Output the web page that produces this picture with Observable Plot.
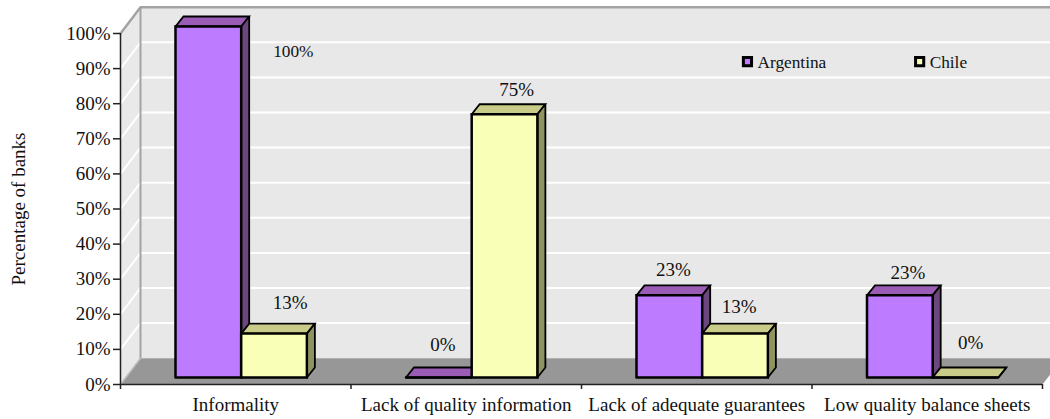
<!DOCTYPE html>
<html>
<head>
<meta charset="utf-8">
<script src="https://cdn.jsdelivr.net/npm/d3@7"></script>
<script src="https://cdn.jsdelivr.net/npm/@observablehq/plot@0.6"></script>
<style>
  html, body { margin: 0; padding: 0; background: #fff; overflow: hidden; }
  svg { display: block; }
</style>
</head>
<body>
<div id="chart"></div>
<script>
const categories = ["Informality", "Lack of quality information", "Lack of adequate guarantees", "Low quality balance sheets"];
const argentina = [100, 0, 23.4, 23.4];
const chile = [12.5, 75, 12.5, 0];
const percentTicks = [0, 10, 20, 30, 40, 50, 60, 70, 80, 90, 100];
const seriesNames = ["Argentina", "Chile"];

// label nudges (px) for each value label: [dx, dy]
const argentinaNudges = [[85, 25], [4, -33], [4, -25], [8, -22]];
const chileNudges = [[16, -31], [12, -24], [4, -27], [5, -35]];

// 3D geometry, in scale units
const wallDx = 20 / 230.5, wallDy = 7.5;
const barDx = 8 / 230.5, barDy = 2.85;
const barWidth = 0.285, groupStart = 0.2386, floorLift = 2;

const colors = {
  argentina: {front: "#BD7BFF", top: "#9A5CB4", side: "#6C477E"},
  chile: {front: "#F9FFB6", top: "#C8CC88", side: "#8F9360"}
};

const poly = (pts, fill, stroke = "none", strokeWidth = 0) =>
  Plot.line([...pts, pts[0]], {
    x: d => d[0], y: d => d[1], fill, stroke, strokeWidth,
    strokeLinejoin: "miter", strokeMiterlimit: 3
  });

function bar(i, slot, v, c) {
  const x0 = i + groupStart + slot * barWidth, x1 = x0 + barWidth;
  const y0 = floorLift, y1 = floorLift + v;
  return [
    poly([[x0, y1], [x0 + barDx, y1 + barDy], [x1 + barDx, y1 + barDy], [x1, y1]], c.top, "#000", 1.8),
    poly([[x1, y0], [x1 + barDx, y0 + barDy], [x1 + barDx, y1 + barDy], [x1, y1]], c.side, "#000", 1.8),
    poly([[x0, y0], [x1, y0], [x1, y1], [x0, y1]], c.front, "#000", 2.5)
  ];
}

const barMarks = categories.flatMap((_, i) => [
  ...bar(i, 0, argentina[i], colors.argentina),
  ...bar(i, 1, chile[i], colors.chile)
]);

const valueLabels = (values, slot, nudges) => values.map((v, i) =>
  Plot.text([v], {
    x: () => i + groupStart + (slot + 0.5) * barWidth,
    y: () => v + floorLift,
    text: d => Math.round(d) + "%",
    dx: nudges[i][0], dy: nudges[i][1],
    fontSize: v === 100 ? 17.3 : 19, fill: "#111"
  }));

const gridBack = percentTicks.slice(1, -1);

const plot = Plot.plot({
  width: 1050,
  height: 419,
  marginLeft: 120,
  marginRight: 8,
  marginTop: 33,
  marginBottom: 35,
  style: {fontFamily: "'Liberation Serif', serif", background: "#fff", color: "#111"},
  x: {domain: [0, 4], axis: null},
  y: {domain: [0, 100], axis: null},
  marks: [
    // walls and floor
    poly([[wallDx, wallDy], [4.2, wallDy], [4.2, 100 + wallDy], [wallDx, 100 + wallDy]], "#E8E8E8"),
    poly([[0, 0], [wallDx, wallDy], [wallDx, 100 + wallDy], [0, 100]], "#E9E9E9"),
    poly([[0, 0], [wallDx, wallDy], [4 + wallDx, wallDy], [4, 0]], "#979797"),
    // grid
    Plot.link(gridBack, {x1: wallDx, x2: 4.2, y1: d => d + wallDy, y2: d => d + wallDy, stroke: "#fff", strokeWidth: 2}),
    Plot.link(gridBack, {x1: 0, x2: wallDx, y1: d => d, y2: d => d + wallDy, stroke: "#fff", strokeWidth: 2}),
    // wall edges
    Plot.line([[0, 100], [wallDx, 100 + wallDy], [4.2, 100 + wallDy]], {x: d => d[0], y: d => d[1], stroke: "#A3A3A3", strokeWidth: 2.5}),
    Plot.link([0], {x1: wallDx, x2: wallDx, y1: wallDy, y2: 100 + wallDy, stroke: "#A3A3A3", strokeWidth: 2}),
    Plot.link([0], {x1: 0, x2: wallDx, y1: 0, y2: wallDy, stroke: "#BDBDBD", strokeWidth: 1.5}),
    // bars
    ...barMarks,
    // value labels
    ...valueLabels(argentina, 0, argentinaNudges),
    ...valueLabels(chile, 1, chileNudges),
    // axes
    Plot.ruleX([0], {y1: 0, y2: 100, stroke: "#222", strokeWidth: 1.5}),
    Plot.ruleY([0], {x1: 0, x2: 4, stroke: "#222", strokeWidth: 1.5}),
    Plot.axisY({
      ticks: percentTicks, tickFormat: d => d + "%", tickSize: 7, tickPadding: 3,
      fontSize: 19, stroke: "#222", strokeWidth: 1.5,
      label: null
    }),
    Plot.axisX({
      ticks: [0, 1, 2, 3, 4], tickFormat: () => "", tickSize: 5, stroke: "#222", strokeWidth: 1.5, label: null
    }),
    Plot.axisX({
      ticks: categories.map((_, i) => i + 0.5), tickFormat: d => categories[Math.floor(d)],
      tickSize: 0, tickPadding: 13, fontSize: 19, label: null
    }),
    Plot.text(["Percentage of banks"], {
      frameAnchor: "left", textAnchor: "middle", dx: -102, rotate: -90, fontSize: 19, fill: "#111"
    }),
    // legend
    Plot.dot(seriesNames, {
      x: (_, i) => [2.72, 3.467][i], y: 92, symbol: "square", r: 4.6,
      fill: (_, i) => [colors.argentina.front, colors.chile.front][i], stroke: "#000", strokeWidth: 3
    }),
    Plot.text(seriesNames, {
      x: (_, i) => [2.72, 3.467][i], y: 92, text: d => d, dx: 10, dy: 1, textAnchor: "start",
      fontSize: 17.3, fill: "#111"
    })
  ]
});
document.getElementById("chart").append(plot);
</script>
</body>
</html>
